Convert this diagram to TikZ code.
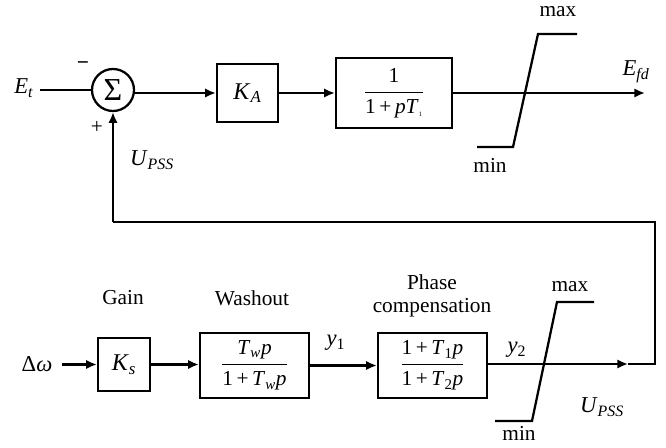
\documentclass[tikz,border=0pt]{standalone}
\usepackage{fontspec}
\setmainfont{Liberation Serif}
\usetikzlibrary{arrows.meta}
\begin{document}
\begin{tikzpicture}[x=0.75pt,y=-0.75pt, line width=1.7pt,
  blk/.style={draw, line width=1.7pt, inner sep=0pt, font=\fontsize{16}{18}\selectfont},
  arr/.style={-{Latex[length=8pt,width=7pt]}},
  lbl/.style={inner sep=0pt, font=\fontsize{16}{18}\selectfont},
  mth/.style={inner sep=0pt, font=\fontsize{17}{19}\selectfont}]
\useasboundingbox (0,0) rectangle (666,448);
% ---------- top row ----------
\node[mth] (et) at (24,88) {\textit{E}\textsubscript{\textit{t}}};
\node[draw, circle, minimum size=31.5pt, inner sep=0pt, line width=1.7pt,
      font=\fontsize{24}{26}\selectfont] (sum) at (113,90) {Σ};
\node[blk, minimum width=45.75pt, minimum height=43.5pt, font=\fontsize{18}{20}\selectfont] (ka) at (247.5,93)
  {\textit{K}\textsubscript{\textit{A}}};
\node[blk, minimum width=87pt, minimum height=52.5pt] (t1) at (394,93)
  {\(\displaystyle\frac{\mbox{1}}{\mbox{1\,+\,\textit{pT}\textsubscript{\tiny 1}}}\)};
\coordinate (efdend) at (645,93);
\node[mth] (efd) at (636,72) {\textit{E}\textsubscript{\textit{fd}}};
\node[lbl] (minus) at (83,66) {\textbf{−}};
\node[lbl] (plus) at (97,127) {+};
\node[mth] (upss1) at (152,160) {\textit{U}\textsubscript{\textit{PSS}}};

\coordinate (etst) at (40,90);
\draw (etst) -- (sum.west);
\draw[arr] (sum.east |- ka.west) -- (ka.west);
\draw[arr] (ka.east) -- (t1.west);
\draw[arr] (t1.east) -- (efdend);

% top limiter
\coordinate (tmx1) at (538,34);
\coordinate (tmx2) at (577,34);
\coordinate (tmn1) at (477,147);
\coordinate (tmn2) at (513,147);
\draw (tmx2) -- (tmx1) -- (tmn2) -- (tmn1);
\node[lbl] (tmax) at (558,12) {max};
\node[lbl] (tmin) at (490,165) {min};

% ---------- bottom row ----------
\node[lbl, font=\fontsize{17}{19}\selectfont] (dw) at (37,364) {Δ\textit{ω}};
\node[blk, minimum width=39pt, minimum height=39.75pt, font=\fontsize{18}{20}\selectfont] (ks) at (124,364.5)
  {\textit{K}\textsubscript{\textit{s}}};
\node[blk, minimum width=81.75pt, minimum height=48.75pt] (wo) at (254.5,365.5)
  {\(\displaystyle\frac{\mbox{\textit{T}\textsubscript{\textit{w}}\textit{p}}}{\mbox{1\,+\,\textit{T}\textsubscript{\textit{w}}\textit{p}}}\)};
\node[blk, minimum width=81.75pt, minimum height=48.75pt] (pc) at (432.5,365.5)
  {\(\displaystyle\frac{\mbox{1\,+\,\textit{T}\textsubscript{1}\textit{p}}}{\mbox{1\,+\,\textit{T}\textsubscript{2}\textit{p}}}\)};
\node[lbl] (gain) at (123,298) {Gain};
\node[lbl] (wash) at (252,298) {Washout};
\node[lbl] (phase) at (432,282) {Phase};
\node[lbl] (comp) at (432,308) {compensation};
\node[mth] (y1) at (336,343) {\textit{y}\textsubscript{1}};
\node[mth] (y2) at (517,350) {\textit{y}\textsubscript{2}};
\node[mth] (upss2) at (602,407) {\textit{U}\textsubscript{\textit{PSS}}};

\coordinate (dwst) at (62,364.5);
\draw[arr] (dwst) -- (ks.west);
\draw[arr] (ks.east) -- (wo.west |- ks.east);
\draw[arr] (wo.east) -- (pc.west);
\coordinate (uend) at (628,364);
\coordinate (c1) at (655,364);
\coordinate (c2) at (655,222);
\coordinate (c3) at (113,222);
\draw[arr] (pc.east |- uend) -- (uend);
\draw (uend) -- (c1) -- (c2) -- (c3);
\draw[arr] (c3) -- (sum.south);

% bottom limiter
\coordinate (bmx1) at (557,302);
\coordinate (bmx2) at (594,302);
\coordinate (bmn1) at (495,421);
\coordinate (bmn2) at (532,421);
\draw (bmx2) -- (bmx1) -- (bmn2) -- (bmn1);
\node[lbl] (bmax) at (570,287) {max};
\node[lbl] (bmin) at (519,433) {min};
\end{tikzpicture}
\end{document}
